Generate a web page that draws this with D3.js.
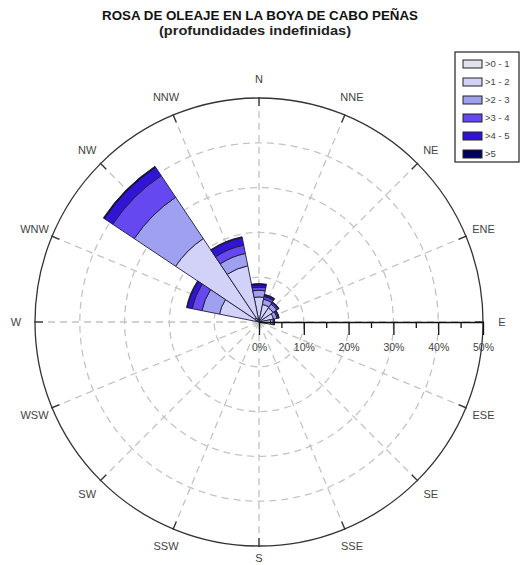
<!DOCTYPE html>
<html>
<head>
<meta charset="utf-8">
<script src="https://cdn.jsdelivr.net/npm/d3@7"></script>
<style>
  html, body { margin: 0; padding: 0; background: #fff; }
  svg { display: block; font-family: "Liberation Sans", Arial, sans-serif; }
</style>
</head>
<body>
<svg id="chart" width="521" height="565"></svg>
<script>
// Wave rose: frequency (%) of wave height classes by direction of origin
const directions = ["N", "NNE", "NE", "ENE", "E", "ESE", "SE", "SSE",
                    "S", "SSW", "SW", "WSW", "W", "WNW", "NW", "NNW"];
const heightClasses = [">0 - 1", ">1 - 2", ">2 - 3", ">3 - 4", ">4 - 5", ">5"];
const classColors = ["#e2e2ea", "#d2d2f9", "#a0a0f0", "#6548f0", "#3214d6", "#00005e"];

// frequency (%) per direction for each height class (m)
const hs0to1 = [0.6, 0.5, 0.4, 0.4, 0.4, 0, 0, 0, 0, 0, 0, 0, 0, 0.8, 1.2, 0.8];
const hs1to2 = [5.0, 3.5, 3.4, 2.9, 2.2, 0, 0, 0, 0, 0, 0, 0, 0, 8.2, 21.2, 12.0];
const hs2to3 = [1.5, 1.2, 1.0, 0.8, 0.6, 0, 0, 0, 0, 0, 0, 0, 0, 4.0, 11.1, 2.8];
const hs3to4 = [0.7, 0.6, 0.4, 0.3, 0.2, 0, 0, 0, 0, 0, 0, 0, 0, 2.2, 5.8, 1.9];
const hs4to5 = [0.5, 0.3, 0.1, 0.1, 0.1, 0, 0, 0, 0, 0, 0, 0, 0, 1.1, 2.2, 1.7];
const hs5up  = [0.3, 0.2, 0.1, 0.1, 0.0, 0, 0, 0, 0, 0, 0, 0, 0, 0.2, 0.3, 0.2];

const gridTicks = [10, 20, 30, 40];
const majorTicks = [0, 10, 20, 30, 40, 50];
const minorTicks = [5, 15, 25, 35, 45];
const maxPct = 50;

const classSeries = [hs0to1, hs1to2, hs2to3, hs3to4, hs4to5, hs5up];

const svg = d3.select("#chart");
const cx = 259, cy = 322, R = 224;
const rScale = d3.scaleLinear().domain([0, maxPct]).range([0, R]);
const step = 2 * Math.PI / directions.length;

// title
svg.append("text")
  .attr("x", 260).attr("y", 20)
  .attr("text-anchor", "middle")
  .attr("font-size", 13).attr("font-weight", "bold")
  .attr("fill", "#111")
  .attr("textLength", 316).attr("lengthAdjust", "spacingAndGlyphs")
  .text("ROSA DE OLEAJE EN LA BOYA DE CABO PEÑAS");
svg.append("text")
  .attr("x", 255).attr("y", 35)
  .attr("text-anchor", "middle")
  .attr("font-size", 13).attr("font-weight", "bold")
  .attr("fill", "#222")
  .attr("textLength", 192).attr("lengthAdjust", "spacingAndGlyphs")
  .text("(profundidades indefinidas)");

const g = svg.append("g").attr("transform", `translate(${cx},${cy})`);

// dashed grid circles
g.selectAll("circle.grid").data(gridTicks).join("circle")
  .attr("class", "grid")
  .attr("r", d => rScale(d))
  .attr("fill", "none")
  .attr("stroke", "#c4c4c4")
  .attr("stroke-width", 1.3)
  .attr("stroke-dasharray", "7,5");

// dashed radial spokes
g.selectAll("line.spoke").data(directions).join("line")
  .attr("class", "spoke")
  .attr("x1", 0).attr("y1", 0)
  .attr("x2", (d, i) => R * Math.sin(i * step))
  .attr("y2", (d, i) => -R * Math.cos(i * step))
  .attr("stroke", "#c4c4c4")
  .attr("stroke-width", 1.3)
  .attr("stroke-dasharray", "7,5");

// outer circle
g.append("circle")
  .attr("r", rScale(maxPct))
  .attr("fill", "none")
  .attr("stroke", "#333")
  .attr("stroke-width", 1.3);

// compass ticks on outer circle
g.selectAll("line.ctick").data(directions).join("line")
  .attr("class", "ctick")
  .attr("x1", (d, i) => (R - 8) * Math.sin(i * step))
  .attr("y1", (d, i) => -(R - 8) * Math.cos(i * step))
  .attr("x2", (d, i) => (R + 1) * Math.sin(i * step))
  .attr("y2", (d, i) => -(R + 1) * Math.cos(i * step))
  .attr("stroke", "#333")
  .attr("stroke-width", 1.3);

// stacked sectors
const table = directions.map((dir, i) => {
  const row = { dir, i };
  heightClasses.forEach((c, k) => { row[c] = classSeries[k][i]; });
  return row;
});
const stacked = d3.stack().keys(heightClasses)(table);
const arc = d3.arc()
  .innerRadius(d => rScale(d[0]))
  .outerRadius(d => rScale(d[1]))
  .startAngle(d => d.data.i * step - step / 2)
  .endAngle(d => d.data.i * step + step / 2);

stacked.forEach((layer, k) => {
  g.append("g").selectAll("path")
    .data(layer.filter(d => d[1] - d[0] > 0))
    .join("path")
    .attr("d", arc)
    .attr("fill", classColors[k])
    .attr("stroke", "#1c1c3a")
    .attr("stroke-width", 0.9)
    .attr("stroke-linejoin", "round");
});

// radial percentage axis along E
const axisG = g.append("g");
axisG.call(d3.axisBottom(rScale)
  .tickValues(majorTicks)
  .tickSize(13)
  .tickSizeOuter(0)
  .tickPadding(9)
  .tickFormat(d => d + "%"));
axisG.call(a => a.select(".domain").attr("stroke", "#111").attr("stroke-width", 1.6));
axisG.selectAll(".tick line").attr("stroke", "#111").attr("stroke-width", 1.3);
axisG.selectAll(".tick text")
  .attr("font-size", 10.5)
  .attr("font-family", "\"Liberation Sans\", Arial, sans-serif")
  .attr("fill", "#444");
const minorG = g.append("g");
minorG.call(d3.axisBottom(rScale)
  .tickValues(minorTicks)
  .tickSize(6)
  .tickSizeOuter(0)
  .tickFormat(""));
minorG.select(".domain").remove();
minorG.selectAll(".tick line").attr("stroke", "#111").attr("stroke-width", 1.3);

// compass labels (S kept just inside the bottom edge)
g.selectAll("text.compass").data(directions).join("text")
  .attr("class", "compass")
  .attr("x", (d, i) => 243 * Math.sin(i * step))
  .attr("y", (d, i) => Math.min(-243 * Math.cos(i * step), 236))
  .attr("dy", "0.36em")
  .attr("text-anchor", "middle")
  .attr("font-size", 11)
  .attr("fill", "#444")
  .text(d => d);

// legend
const lg = svg.append("g").attr("transform", "translate(455,52)");
lg.append("rect")
  .attr("width", 64).attr("height", 110)
  .attr("fill", "#fff")
  .attr("stroke", "#222").attr("stroke-width", 1.2);
const rows = lg.selectAll("g.row").data(heightClasses).join("g")
  .attr("class", "row")
  .attr("transform", (d, i) => `translate(8,${12 + i * 18})`);
rows.append("rect")
  .attr("x", 0).attr("y", -4)
  .attr("width", 19).attr("height", 8)
  .attr("fill", (d, i) => classColors[i])
  .attr("stroke", "#222").attr("stroke-width", 1);
rows.append("text")
  .attr("x", 22).attr("y", 0).attr("dy", "0.35em")
  .attr("font-size", 9.5)
  .attr("fill", "#444")
  .text(d => d);
</script>
</body>
</html>
